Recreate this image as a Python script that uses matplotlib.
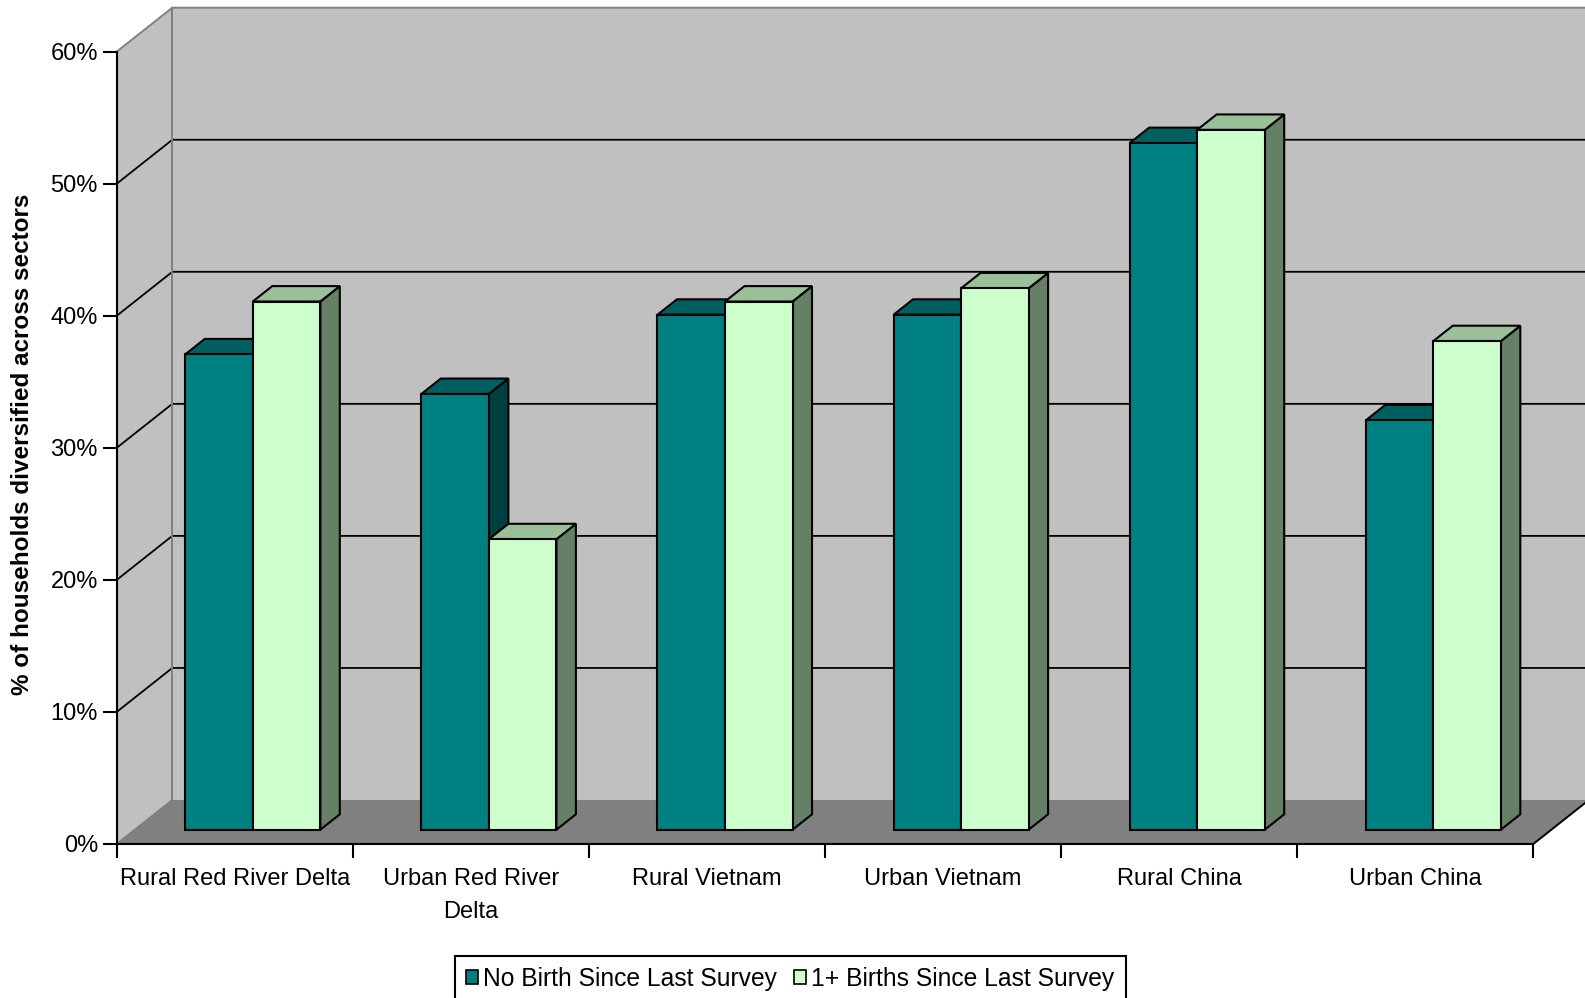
import matplotlib
matplotlib.use('Agg')
import matplotlib.pyplot as plt
from matplotlib.patches import Polygon, Patch
from matplotlib.transforms import Bbox
from matplotlib.ticker import FixedLocator
import matplotlib.font_manager as fm

# ---------------- data ----------------
categories = ['Rural Red River Delta', 'Urban Red River\nDelta', 'Rural Vietnam',
              'Urban Vietnam', 'Rural China', 'Urban China']
no_birth = [36, 33, 39, 39, 52, 31]
births = [40, 22, 40, 41, 53, 37]
series_names = ['No Birth Since Last Survey', '1+ Births Since Last Survey']
yticks = [0, 10, 20, 30, 40, 50, 60]
ytick_labels = ['0%', '10%', '20%', '30%', '40%', '50%', '60%']
ylabel = '% of households diversified across sectors'

# ---------------- style ----------------
W, H = 1585, 998
names = {f.name for f in fm.fontManager.ttflist}
base_font = 'Liberation Sans' if 'Liberation Sans' in names else 'DejaVu Sans'
narrow_font = 'Liberation Sans Narrow' if 'Liberation Sans Narrow' in names else base_font
plt.rcParams['font.family'] = [base_font, 'DejaVu Sans']

colors = [('#008080', '#006060', '#004040'),
          ('#CCFFCC', '#99C099', '#668066')]
wall_c = '#C0C0C0'
floor_c = '#808080'
edge_gray = '#808080'

# layout (pixel geometry of the reference)
px_x0, px_x6 = 116.7, 1533.3
px_y0, px_y60 = 844.0, 51.7
ppx = (px_x6 - px_x0) / 6
ppy = (px_y0 - px_y60) / 60
Dx = 55.6 / ppx      # depth offset in category units
Dy = 44.0 / ppy      # depth offset in percent units
z0, z1 = 0.325, 0.675
bar_w = 0.286
group_left = 0.214

fig = plt.figure(figsize=(W / 100, H / 100), dpi=100)
ax = fig.add_axes([0, 0, 1, 1])
ax.set_xlim(-px_x0 / ppx, (W - px_x0) / ppx)
ax.set_ylim((px_y0 - H) / ppy, px_y0 / ppy)
ax.patch.set_visible(False)

ymax = yticks[-1]
ncat = len(categories)

def P(x, y, z):
    return (x + z * Dx, y + z * Dy)

# walls and floor
ax.add_patch(Polygon([P(0, 0, 0), P(0, 0, 1), P(0, ymax, 1), P(0, ymax, 0)],
                     closed=True, facecolor=wall_c, edgecolor='none', zorder=0.5))
ax.add_patch(Polygon([P(0, 0, 1), P(ncat, 0, 1), P(ncat, ymax, 1), P(0, ymax, 1)],
                     closed=True, facecolor=wall_c, edgecolor='none', zorder=0.5))
ax.add_patch(Polygon([P(0, 0, 0), P(ncat, 0, 0), P(ncat, 0, 1), P(0, 0, 1)],
                     closed=True, facecolor=floor_c, edgecolor='none', zorder=0.6))

# gridlines
for v in yticks[1:-1]:
    xa, ya = P(0, v, 0)
    xb, yb = P(0, v, 1)
    xc, yc = P(ncat, v, 1)
    ax.plot([xa, xb, xc], [ya, yb, yc], color='black', lw=1.3, zorder=0.8,
            solid_joinstyle='miter')

# wall edges (gray)
for pts in ([P(0, 0, 0), P(0, 0, 1)],
            [P(0, ymax, 0), P(0, ymax, 1), P(ncat, ymax, 1)],
            [P(0, 0, 1), P(0, ymax, 1)]):
    xs, ys = zip(*pts)
    ax.plot(xs, ys, color=edge_gray, lw=1.4, zorder=0.8)
# floor right edge
xs, ys = zip(P(ncat, 0, 0), P(ncat, 0, 1))
ax.plot(xs, ys, color='black', lw=1.4, zorder=0.8)

# bars
for i in range(ncat):
    for s, vals in enumerate((no_birth, births)):
        v = vals[i]
        xl = i + group_left + s * bar_w
        xr = xl + bar_w
        front_c, top_c, side_c = colors[s]
        side = [P(xr, 0, z0), P(xr, 0, z1), P(xr, v, z1), P(xr, v, z0)]
        top = [P(xl, v, z0), P(xr, v, z0), P(xr, v, z1), P(xl, v, z1)]
        front = [P(xl, 0, z0), P(xr, 0, z0), P(xr, v, z0), P(xl, v, z0)]
        for poly, c in ((side, side_c), (top, top_c), (front, front_c)):
            ax.add_patch(Polygon(poly, closed=True, facecolor=c, edgecolor='black',
                                 lw=1.5, joinstyle='miter', zorder=1))

# axes / spines
for sp in ('top', 'right'):
    ax.spines[sp].set_visible(False)
ax.spines['left'].set_position(('data', 0))
ax.spines['left'].set_bounds(0, ymax)
ax.spines['bottom'].set_position(('data', 0))
ax.spines['bottom'].set_bounds(0, ncat)
for sp in ('left', 'bottom'):
    ax.spines[sp].set_linewidth(1.5)
    ax.spines[sp].set_zorder(3)

ax.set_yticks(yticks)
ax.set_yticklabels(ytick_labels)
ax.tick_params(axis='y', direction='out', length=10, width=1.5, pad=3.5,
               labelsize=17, colors='black')
ax.set_xticks(list(range(ncat + 1)))
ax.set_xticklabels([''] * (ncat + 1))
ax.xaxis.set_minor_locator(FixedLocator([i + 0.5 for i in range(ncat)]))
ax.set_xticklabels(categories, minor=True)
ax.tick_params(axis='x', which='major', direction='out', length=10, width=1.5)
ax.tick_params(axis='x', which='minor', length=0, pad=17.5, labelsize=17)
for lab in ax.get_xticklabels(minor=True):
    lab.set_linespacing(1.65)

# y label (clipped at top like the reference)
t = fig.text(23 / W, 1 - 695 / H, ylabel, rotation=90, ha='center', va='bottom',
             fontsize=17.5, fontweight='bold')
t.set_clip_box(Bbox.from_extents(0, 0, 120, H - 190))
t.set_clip_on(True)

# legend
handles = [Patch(facecolor=colors[0][0], edgecolor='black', lw=1.2),
           Patch(facecolor=colors[1][0], edgecolor='black', lw=1.2)]
leg = ax.legend(handles, series_names, loc='center', ncol=2,
                bbox_to_anchor=(790 / W, 1 - 979 / H), bbox_transform=fig.transFigure,
                frameon=True, fancybox=False, edgecolor='black', framealpha=1,
                handlelength=0.5, handleheight=0.5, handletextpad=0.2,
                columnspacing=0.7, borderpad=0.45, borderaxespad=0,
                prop={'family': [narrow_font, base_font], 'size': 17.7})
leg.get_frame().set_linewidth(1.5)

fig.savefig('out.png', dpi=100)
